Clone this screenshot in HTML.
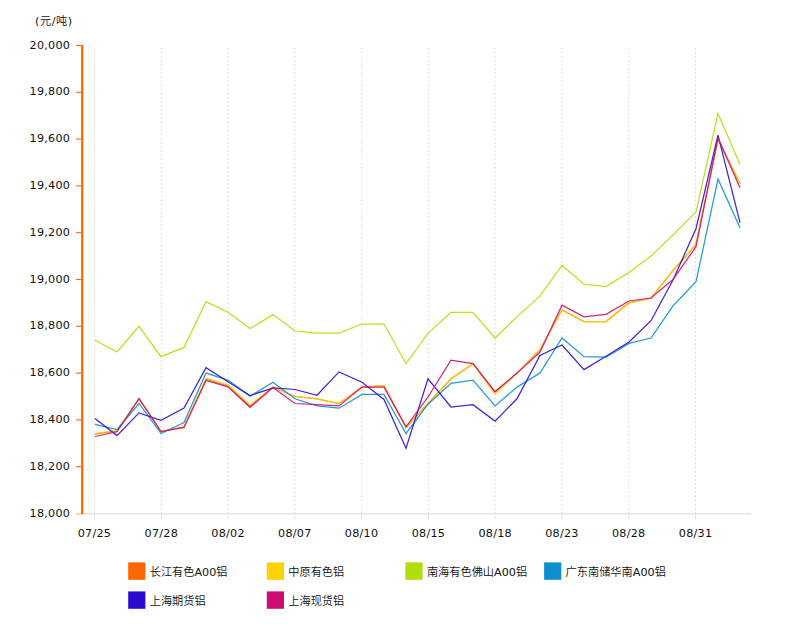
<!DOCTYPE html>
<html lang="zh-CN">
<head>
<meta charset="utf-8">
<title>铝价走势图</title>
<style>
html,body{margin:0;padding:0;background:#fff;}
body{width:800px;height:641px;overflow:hidden;}
svg{display:block;}
text{font-family:"DejaVu Sans", "Liberation Sans", "Noto Sans CJK SC", sans-serif;font-size:11.2px;fill:#111;}
.cjk{font-size:11.2px;font-weight:350;}
.lat{font-weight:400;}
.num text{letter-spacing:0.25px;}
.grid line{stroke:#dadada;stroke-width:1;stroke-dasharray:1.7 2.41;}
.tick line{stroke:#e4e4e4;stroke-width:1;}
.ln{fill:none;stroke-width:1.25;stroke-opacity:0.9;stroke-linejoin:miter;}
</style>
</head>
<body>
<svg width="800" height="641" viewBox="0 0 800 641">
<rect x="0" y="0" width="800" height="641" fill="#ffffff"/>
<text class="cjk" x="53.8" y="25" text-anchor="middle" style="letter-spacing:0.5px"><tspan class="lat">(</tspan>元<tspan class="lat">/</tspan>吨<tspan class="lat">)</tspan></text>
<g class="grid">
<line x1="94.50" y1="47.55" x2="94.50" y2="513"/>
<line x1="161.28" y1="47.55" x2="161.28" y2="513"/>
<line x1="228.06" y1="47.55" x2="228.06" y2="513"/>
<line x1="294.84" y1="47.55" x2="294.84" y2="513"/>
<line x1="361.62" y1="47.55" x2="361.62" y2="513"/>
<line x1="428.40" y1="47.55" x2="428.40" y2="513"/>
<line x1="495.18" y1="47.55" x2="495.18" y2="513"/>
<line x1="561.96" y1="47.55" x2="561.96" y2="513"/>
<line x1="628.74" y1="47.55" x2="628.74" y2="513"/>
<line x1="695.52" y1="47.55" x2="695.52" y2="513"/>
</g>
<g class="tick">
<line x1="83.4" y1="513.75" x2="751.2" y2="513.75" style="stroke-width:1.3"/>
<line x1="94.50" y1="513" x2="94.50" y2="519.3"/>
<line x1="161.28" y1="513" x2="161.28" y2="519.3"/>
<line x1="228.06" y1="513" x2="228.06" y2="519.3"/>
<line x1="294.84" y1="513" x2="294.84" y2="519.3"/>
<line x1="361.62" y1="513" x2="361.62" y2="519.3"/>
<line x1="428.40" y1="513" x2="428.40" y2="519.3"/>
<line x1="495.18" y1="513" x2="495.18" y2="519.3"/>
<line x1="561.96" y1="513" x2="561.96" y2="519.3"/>
<line x1="628.74" y1="513" x2="628.74" y2="519.3"/>
<line x1="695.52" y1="513" x2="695.52" y2="519.3"/>
</g>
<polyline class="ln" stroke="#FF6600" points="95,433.9 117,431.1 139,398.6 161,431.6 184,426.9 206,379.2 228,386.0 250,406.3 273,387.1 295,396.5 317,398.8 339,403.5 362,387.1 384,385.7 406,427.4 428,403.5 451,378.7 473,363.7 495,391.8 517,373.1 540,349.7 562,309.9 584,321.6 606,321.6 629,302.9 651,298.2 673,270.6 696,244.4 718,139.1 740,183.6"/>
<polyline class="ln" stroke="#FCD202" points="95,433.5 117,430.4 139,398.6 161,431.6 184,426.9 206,378.0 228,384.8 250,404.9 273,387.1 295,396.5 317,398.8 339,403.5 362,387.6 384,385.7 406,427.9 428,403.5 451,378.7 473,363.7 495,394.4 517,373.1 540,349.7 562,309.9 584,321.6 606,321.6 629,302.9 651,298.2 673,270.1 696,244.4 718,139.1 740,183.8"/>
<polyline class="ln" stroke="#B0DE09" points="95,340.3 117,352.0 139,326.3 161,356.7 184,347.4 206,301.7 228,312.3 250,328.6 273,314.6 295,331.0 317,333.1 339,333.1 362,324.0 384,324.0 406,363.7 428,333.3 451,312.3 473,312.3 495,338.0 517,316.9 540,295.9 562,265.5 584,284.2 606,286.5 629,272.5 651,256.1 673,235.0 696,211.9 718,113.4 740,164.4"/>
<polyline class="ln" stroke="#0D8ECF" points="95,424.3 117,429.5 139,403.5 161,433.5 184,422.5 206,373.1 228,380.1 250,396.3 273,382.2 295,398.8 317,405.9 339,408.2 362,394.4 384,394.4 406,433.5 428,404.2 451,383.4 473,380.1 495,405.9 517,387.1 540,373.1 562,338.0 584,356.7 606,357.2 629,343.4 651,338.0 673,305.9 696,281.8 718,179.1 740,227.8"/>
<polyline class="ln" stroke="#2A0CD0" points="95,418.5 117,435.6 139,412.9 161,420.4 184,408.0 206,367.7 228,381.8 250,395.6 273,387.8 295,389.5 317,395.3 339,371.9 362,382.2 384,399.5 406,448.2 428,378.9 451,407.0 473,404.7 495,421.1 517,398.8 540,355.5 562,345.0 584,369.6 606,356.3 629,342.0 651,320.7 673,280.0 696,228.7 718,135.1 740,222.6"/>
<polyline class="ln" stroke="#CD0D74" points="95,436.5 117,431.8 139,398.6 161,431.6 184,427.4 206,380.4 228,386.9 250,407.3 273,387.6 295,403.5 317,404.7 339,405.9 362,387.1 384,387.1 406,426.9 428,397.0 451,360.2 473,363.7 495,391.8 517,373.1 540,352.0 562,305.2 584,316.9 606,314.4 629,301.0 651,298.0 673,279.5 696,246.7 718,137.9 740,187.8"/>
<line x1="82.2" y1="45" x2="82.2" y2="514.3" stroke="#FF6600" stroke-width="2.2"/>
<g stroke="#FF6600" stroke-width="1.1">
<line x1="76" y1="514.00" x2="81.5" y2="514.00" opacity="0.55"/>
<line x1="76" y1="466.70" x2="81.5" y2="466.70"/>
<line x1="76" y1="419.90" x2="81.5" y2="419.90"/>
<line x1="76" y1="373.10" x2="81.5" y2="373.10"/>
<line x1="76" y1="326.30" x2="81.5" y2="326.30"/>
<line x1="76" y1="279.50" x2="81.5" y2="279.50"/>
<line x1="76" y1="232.70" x2="81.5" y2="232.70"/>
<line x1="76" y1="185.90" x2="81.5" y2="185.90"/>
<line x1="76" y1="139.10" x2="81.5" y2="139.10"/>
<line x1="76" y1="92.30" x2="81.5" y2="92.30"/>
<line x1="76" y1="45.50" x2="81.5" y2="45.50"/>
</g>
<g class="num" text-anchor="end">
<text x="70.2" y="517">18,000</text>
<text x="70.2" y="470">18,200</text>
<text x="70.2" y="423">18,400</text>
<text x="70.2" y="376">18,600</text>
<text x="70.2" y="329">18,800</text>
<text x="70.2" y="283">19,000</text>
<text x="70.2" y="236">19,200</text>
<text x="70.2" y="189">19,400</text>
<text x="70.2" y="142">19,600</text>
<text x="70.2" y="95">19,800</text>
<text x="70.2" y="49">20,000</text>
</g>
<g class="num" text-anchor="middle">
<text x="94.50" y="537">07/25</text>
<text x="161.28" y="537">07/28</text>
<text x="228.06" y="537">08/02</text>
<text x="294.84" y="537">08/07</text>
<text x="361.62" y="537">08/10</text>
<text x="428.40" y="537">08/15</text>
<text x="495.18" y="537">08/18</text>
<text x="561.96" y="537">08/23</text>
<text x="628.74" y="537">08/28</text>
<text x="695.52" y="537">08/31</text>
</g>
<g>
<rect x="128.2" y="562.4" width="17.2" height="17.4" fill="#FF6600"/>
<text class="cjk" x="149.7" y="575.6">长江有色<tspan class="lat">A00</tspan>铝</text>
<rect x="266.8" y="562.4" width="17.2" height="17.4" fill="#FCD202"/>
<text class="cjk" x="288.3" y="575.6">中原有色铝</text>
<rect x="405.4" y="562.4" width="17.2" height="17.4" fill="#B0DE09"/>
<text class="cjk" x="426.9" y="575.6">南海有色佛山<tspan class="lat">A00</tspan>铝</text>
<rect x="544.1" y="562.4" width="17.2" height="17.4" fill="#0D8ECF"/>
<text class="cjk" x="565.6" y="575.6">广东南储华南<tspan class="lat">A00</tspan>铝</text>
<rect x="128.2" y="591.4" width="17.2" height="17.4" fill="#2A0CD0"/>
<text class="cjk" x="149.7" y="604.6">上海期货铝</text>
<rect x="266.8" y="591.4" width="17.2" height="17.4" fill="#CD0D74"/>
<text class="cjk" x="288.3" y="604.6">上海现货铝</text>
</g>
</svg>
</body>
</html>
